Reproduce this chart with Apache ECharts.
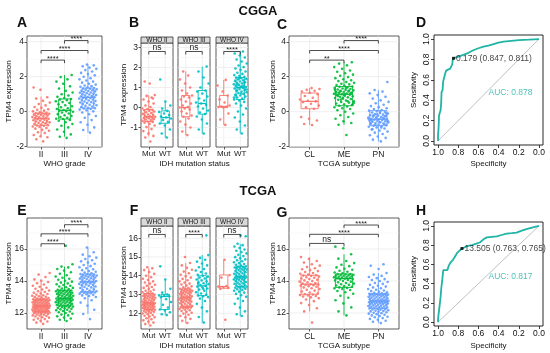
<!DOCTYPE html>
<html><head><meta charset="utf-8">
<script src="https://cdn.jsdelivr.net/npm/echarts@6/dist/echarts.min.js"></script>
<style>html,body{margin:0;padding:0;background:#fff}#c{width:550px;height:353px}</style>
</head><body><div id="c"></div>
<script>
// ---------------- DATA ----------------
const gradeCats = ['II', 'III', 'IV'];
const idhCats = ['Mut', 'WT'];
const subtypeCats = ['CL', 'ME', 'PN'];
const whoFacets = ['WHO II', 'WHO III', 'WHO IV'];

// y tick labels
const ticksCggaGrade = [-2, 0, 2, 4];
const ticksCggaIDH = [-1, 0, 1, 2, 3];
const ticksTcgaGrade = [12, 14, 16];
const ticksTcgaIDH = [12, 13, 14, 15, 16];
const ticksROC = [0, 0.2, 0.4, 0.6, 0.8, 1.0];

// box stats: [lower whisker, Q1, median, Q3, upper whisker]
const boxCggaGrade = [[-1.4, -0.78, -0.38, -0.08, 0.87], [-1.43, -0.42, 0.08, 0.73, 2.1], [-1.2, 0.2, 0.82, 1.35, 2.7]];
const boxCggaWHO2 = [[-1.45, -0.7, -0.46, -0.1, 0.62], [-1.5, -0.79, -0.5, -0.17, 0.3]];
const boxCggaWHO3 = [[-1.38, -0.46, 0.0, 0.6, 1.8], [-1.3, -0.33, 0.2, 0.85, 2.05]];
const boxCggaWHO4 = [[-0.87, 0.02, 0.05, 0.6, 1.38], [-1.3, 0.4, 1.0, 1.5, 2.8]];
const boxCggaSub = [[-0.76, 0.17, 0.59, 1.07, 1.35], [-0.75, 0.34, 1.0, 1.44, 2.83], [-1.7, -0.8, -0.43, 0.06, 1.24]];
const boxTcgaGrade = [[11.38, 12.1, 12.45, 12.86, 14.1], [11.5, 12.45, 12.92, 13.42, 14.9], [11.94, 13.33, 13.95, 14.44, 16.1]];
const boxTcgaWHO2 = [[11.4, 12.2, 12.55, 13.05, 14.4], [11.9, 12.2, 12.9, 13.0, 13.8]];
const boxTcgaWHO3 = [[11.48, 12.35, 12.85, 13.3, 14.68], [11.5, 12.94, 13.46, 14.0, 15.1]];
const boxTcgaWHO4 = [[13.3, 13.33, 13.42, 14.04, 14.85], [11.85, 13.42, 13.95, 14.5, 15.7]];
const boxTcgaSub = [[12.1, 13.17, 13.8, 14.36, 15.5], [11.85, 13.6, 14.15, 14.44, 15.67], [11.37, 12.3, 12.75, 13.2, 14.5]];

// individual sample values
const cggaII = [-1.7,-1.58,-1.46,-1.41,-1.33,-1.22,-1.18,-1.09,-1.04,-0.97,-0.93,-0.88,-0.85,-0.81,-0.79,-0.77,-0.73,-0.71,-0.66,-0.64,-0.61,-0.6,-0.56,-0.54,-0.51,-0.49,-0.46,-0.43,-0.41,-0.4,-0.38,-0.36,-0.32,-0.31,-0.27,-0.26,-0.22,-0.19,-0.17,-0.15,-0.13,-0.12,-0.1,-0.09,-0.07,-0.04,0.02,0.06,0.11,0.14,0.22,0.27,0.36,0.44,0.52,0.63,0.75,0.83,1.25,1.38];
const cggaIII = [-1.5,-1.43,-1.3,-1.15,-1.02,-0.9,-0.81,-0.7,-0.6,-0.52,-0.47,-0.42,-0.4,-0.35,-0.3,-0.24,-0.2,-0.14,-0.1,-0.05,0.0,0.03,0.06,0.08,0.1,0.15,0.2,0.25,0.31,0.37,0.42,0.5,0.55,0.6,0.66,0.7,0.72,0.78,0.85,0.93,1.0,1.1,1.2,1.33,1.45,1.6,1.72,1.85,1.98,2.1];
const cggaIV = [-1.2,-1.05,-0.9,-0.75,-0.6,-0.48,-0.35,-0.25,-0.15,-0.05,0.02,0.08,0.12,0.15,0.18,0.2,0.22,0.26,0.3,0.33,0.37,0.4,0.44,0.47,0.5,0.53,0.55,0.58,0.61,0.64,0.67,0.7,0.72,0.75,0.78,0.8,0.82,0.84,0.87,0.9,0.92,0.95,0.98,1.0,1.03,1.06,1.08,1.1,1.13,1.16,1.18,1.2,1.23,1.26,1.28,1.31,1.33,1.35,1.38,1.42,1.46,1.5,1.55,1.6,1.66,1.72,1.78,1.85,1.92,2.0,2.08,2.15,2.22,2.3,2.38,2.45,2.52,2.6,2.65,2.7];

const cggaWHO2Mut = [-1.7,-1.5,-1.42,-1.3,-1.18,-1.08,-0.98,-0.9,-0.82,-0.76,-0.72,-0.7,-0.67,-0.63,-0.6,-0.57,-0.54,-0.52,-0.5,-0.48,-0.46,-0.44,-0.41,-0.38,-0.35,-0.32,-0.28,-0.24,-0.2,-0.17,-0.14,-0.11,-0.09,-0.05,0.02,0.1,0.2,0.3,0.4,0.5,0.58,0.62,1.2,1.3,0.45];
const cggaWHO2WT = [-1.5,-1.3,-1.1,-0.9,-0.8,-0.72,-0.62,-0.55,-0.5,-0.45,-0.38,-0.3,-0.22,-0.17,-0.05,0.1,0.3,1.4];
const cggaWHO3Mut = [-1.38,-1.2,-1.0,-0.85,-0.7,-0.55,-0.46,-0.4,-0.3,-0.2,-0.1,-0.05,0.0,0.02,0.1,0.2,0.3,0.4,0.5,0.55,0.6,0.7,0.85,1.0,1.2,1.4,1.6,1.8];
const cggaWHO3WT = [-1.3,-1.1,-0.8,-0.6,-0.45,-0.33,-0.25,-0.15,-0.05,0.05,0.12,0.2,0.25,0.35,0.45,0.55,0.7,0.8,0.85,1.0,1.2,1.5,1.8,2.05];
const cggaWHO4Mut = [-0.87,-0.6,-0.3,0.0,0.02,0.03,0.05,0.1,0.25,0.4,0.6,0.8,1.1,1.38];
const cggaWHO4WT = [-1.3,-1.1,-0.9,-0.7,-0.5,-0.35,-0.2,-0.05,0.1,0.2,0.28,0.35,0.4,0.45,0.5,0.55,0.6,0.64,0.68,0.72,0.76,0.8,0.84,0.88,0.92,0.95,0.98,1.0,1.02,1.05,1.08,1.1,1.13,1.16,1.2,1.23,1.26,1.3,1.33,1.36,1.4,1.43,1.46,1.5,1.53,1.57,1.62,1.68,1.74,1.8,1.88,1.95,2.02,2.1,2.2,2.3,2.4,2.5,2.6,2.7,2.8,1.15,0.9,0.7,0.6,1.25,1.45,0.5,1.05,0.85];

const cggaCL = [-0.76,-0.7,-0.5,-0.4,-0.3,0.17,0.25,0.35,0.45,0.55,0.59,0.62,0.7,0.8,0.9,1.0,1.07,1.15,1.2,1.25,1.3,1.35];
const cggaME = [-1.33,-0.75,-0.65,-0.55,-0.4,-0.3,-0.2,-0.1,0.0,0.08,0.15,0.2,0.25,0.3,0.34,0.38,0.42,0.47,0.52,0.56,0.6,0.64,0.68,0.72,0.75,0.78,0.82,0.85,0.88,0.91,0.94,0.97,1.0,1.02,1.04,1.07,1.09,1.12,1.14,1.16,1.19,1.22,1.24,1.27,1.3,1.33,1.36,1.39,1.42,1.44,1.48,1.52,1.56,1.6,1.65,1.7,1.75,1.8,1.86,1.92,1.98,2.05,2.12,2.2,2.28,2.36,2.45,2.55,2.65,2.75,2.83,0.95,1.1,1.2,0.7,0.5,1.35,0.9,1.05,0.8,1.25,0.6,1.15,0.4,1.0];
const cggaPN = [-1.7,-1.6,-1.5,-1.42,-1.35,-1.28,-1.2,-1.14,-1.08,-1.02,-0.96,-0.9,-0.86,-0.82,-0.8,-0.77,-0.74,-0.71,-0.68,-0.65,-0.62,-0.6,-0.58,-0.55,-0.53,-0.5,-0.48,-0.46,-0.44,-0.43,-0.41,-0.39,-0.36,-0.34,-0.31,-0.28,-0.26,-0.23,-0.2,-0.17,-0.14,-0.11,-0.08,-0.05,-0.02,0.02,0.06,0.1,0.15,0.2,0.26,0.32,0.4,0.48,0.56,0.65,0.75,0.85,0.95,1.05,1.15,1.24,1.7,-0.6,-0.5,-0.7,-0.3,-0.4,-0.9,-0.2,-0.1,-0.45,-0.65,-0.35,-0.75,-0.55,0.0,-1.0,-0.25,-0.15];

const tcgaII = [11.32,11.4,11.47,11.51,11.58,11.62,11.66,11.71,11.73,11.78,11.81,11.84,11.85,11.89,11.91,11.94,11.96,11.99,12.0,12.02,12.03,12.05,12.06,12.07,12.08,12.09,12.1,12.11,12.13,12.15,12.16,12.18,12.19,12.21,12.22,12.24,12.26,12.27,12.28,12.3,12.31,12.33,12.34,12.35,12.37,12.38,12.39,12.4,12.41,12.42,12.43,12.44,12.45,12.45,12.46,12.48,12.5,12.51,12.53,12.54,12.56,12.58,12.59,12.61,12.62,12.64,12.66,12.67,12.69,12.71,12.72,12.74,12.76,12.77,12.79,12.8,12.82,12.83,12.84,12.85,12.86,12.88,12.91,12.93,12.96,12.99,13.02,13.05,13.08,13.11,13.15,13.19,13.22,13.27,13.31,13.36,13.41,13.47,13.52,13.58,13.64,13.7,13.78,13.86,13.94,14.02,14.1,14.25,14.4,14.5];
const tcgaIII = [11.5,11.58,11.66,11.72,11.79,11.85,11.9,11.95,12.0,12.05,12.09,12.13,12.17,12.2,12.23,12.26,12.29,12.32,12.35,12.37,12.4,12.42,12.44,12.45,12.47,12.5,12.52,12.55,12.57,12.6,12.62,12.64,12.66,12.68,12.7,12.72,12.74,12.76,12.78,12.8,12.82,12.83,12.85,12.86,12.88,12.89,12.91,12.92,12.94,12.96,12.99,13.01,13.04,13.06,13.08,13.11,13.13,13.15,13.17,13.19,13.21,13.24,13.26,13.28,13.3,13.32,13.34,13.36,13.38,13.4,13.41,13.42,13.45,13.49,13.53,13.57,13.61,13.66,13.7,13.75,13.8,13.85,13.9,13.96,14.02,14.08,14.14,14.2,14.28,14.36,14.45,14.55,14.65,14.75,14.85,14.9,15.05,16.2];
const tcgaIV = [11.62,11.94,12.2,12.45,12.65,12.8,12.92,13.0,13.06,13.1,13.14,13.18,13.21,13.24,13.26,13.28,13.3,13.31,13.32,13.33,13.36,13.4,13.44,13.48,13.52,13.56,13.6,13.63,13.66,13.7,13.73,13.76,13.79,13.82,13.85,13.87,13.9,13.92,13.94,13.95,13.97,14.0,14.03,14.06,14.09,14.12,14.15,14.17,14.2,14.22,14.25,14.27,14.3,14.32,14.34,14.36,14.38,14.4,14.42,14.44,14.48,14.53,14.58,14.63,14.68,14.74,14.8,14.86,14.93,15.0,15.08,15.15,15.23,15.3,15.38,15.46,15.55,15.65,15.8,16.1];

const tcgaWHO2Mut = [11.35,11.42,11.5,11.56,11.62,11.68,11.73,11.78,11.83,11.87,11.91,11.95,11.99,12.02,12.05,12.08,12.1,12.13,12.15,12.17,12.19,12.2,12.22,12.24,12.26,12.28,12.3,12.32,12.34,12.36,12.38,12.4,12.41,12.43,12.44,12.46,12.47,12.49,12.5,12.51,12.52,12.53,12.54,12.55,12.57,12.6,12.62,12.65,12.67,12.7,12.72,12.75,12.77,12.8,12.82,12.84,12.86,12.88,12.9,12.92,12.94,12.96,12.98,13.0,13.02,13.05,13.08,13.12,13.16,13.2,13.25,13.3,13.35,13.4,13.46,13.52,13.58,13.64,13.7,13.77,13.84,13.92,14.0,14.1,14.2,14.3,14.4,14.45];
const tcgaWHO2WT = [11.9,11.95,12.05,12.15,12.2,12.3,12.45,12.6,12.75,12.85,12.9,12.92,12.95,13.0,13.1,13.3,13.8,14.5];
const tcgaWHO3Mut = [11.48,11.6,11.7,11.78,11.85,11.92,11.98,12.03,12.08,12.12,12.16,12.2,12.23,12.26,12.28,12.3,12.32,12.33,12.34,12.35,12.38,12.41,12.44,12.47,12.5,12.53,12.56,12.59,12.62,12.64,12.66,12.69,12.71,12.73,12.75,12.77,12.79,12.81,12.83,12.85,12.87,12.9,12.92,12.95,12.97,13.0,13.02,13.05,13.07,13.1,13.12,13.14,13.16,13.18,13.2,13.22,13.24,13.26,13.28,13.3,13.34,13.38,13.43,13.48,13.53,13.58,13.64,13.7,13.76,13.83,13.9,13.97,14.05,14.13,14.22,14.32,14.42,14.55,14.68,15.0];
const tcgaWHO3WT = [11.5,11.8,12.1,12.3,12.5,12.65,12.78,12.86,12.9,12.94,12.98,13.05,13.12,13.2,13.26,13.32,13.38,13.42,13.46,13.5,13.55,13.6,13.65,13.7,13.75,13.8,13.85,13.9,13.95,14.0,14.05,14.12,14.2,14.28,14.36,14.45,14.55,14.65,14.75,14.85,14.95,15.1,13.3,13.58,16.15];
const tcgaWHO4Mut = [11.65,13.3,13.35,13.4,13.42,13.45,13.9,14.04,14.85];
const tcgaWHO4WT = [11.85,11.95,12.1,12.3,12.5,12.65,12.78,12.88,12.96,13.03,13.1,13.15,13.2,13.24,13.28,13.31,13.34,13.36,13.38,13.4,13.42,13.45,13.48,13.51,13.54,13.57,13.6,13.63,13.66,13.69,13.72,13.75,13.78,13.8,13.82,13.84,13.86,13.88,13.9,13.92,13.94,13.95,13.98,14.01,14.04,14.07,14.1,14.13,14.16,14.19,14.22,14.25,14.28,14.3,14.33,14.35,14.38,14.4,14.42,14.44,14.46,14.48,14.5,14.54,14.58,14.62,14.67,14.72,14.77,14.82,14.87,14.93,14.99,15.05,15.12,15.19,15.26,15.33,15.4,15.48,15.56,15.63,15.7,16.1,16.15];

const tcgaCL = [11.4,12.1,12.3,12.5,12.62,12.74,12.84,12.92,12.98,13.03,13.07,13.1,13.13,13.15,13.17,13.22,13.28,13.34,13.4,13.45,13.5,13.55,13.6,13.64,13.68,13.71,13.74,13.76,13.78,13.8,13.84,13.88,13.92,13.96,14.0,14.04,14.08,14.12,14.16,14.2,14.24,14.28,14.31,14.34,14.36,14.4,14.45,14.5,14.56,14.62,14.68,14.74,14.8,14.88,14.96,15.05,15.15,15.25,15.38,15.5];
const tcgaME = [11.85,12.1,12.35,12.6,12.8,12.95,13.08,13.2,13.3,13.38,13.44,13.5,13.54,13.57,13.6,13.64,13.68,13.72,13.76,13.8,13.84,13.88,13.92,13.96,14.0,14.04,14.07,14.1,14.12,14.15,14.17,14.19,14.21,14.23,14.25,14.27,14.29,14.31,14.33,14.35,14.37,14.39,14.41,14.43,14.44,14.48,14.53,14.58,14.64,14.7,14.77,14.85,14.93,15.02,15.12,15.25,15.4,15.67,16.05,16.15];
const tcgaPN = [11.37,11.45,11.52,11.58,11.63,11.68,11.73,11.77,11.81,11.85,11.89,11.93,11.96,11.99,12.02,12.05,12.08,12.1,12.13,12.15,12.17,12.2,12.22,12.24,12.26,12.28,12.3,12.32,12.34,12.36,12.38,12.4,12.42,12.44,12.46,12.48,12.5,12.52,12.54,12.56,12.58,12.6,12.61,12.62,12.64,12.65,12.67,12.68,12.7,12.71,12.72,12.73,12.74,12.75,12.77,12.79,12.8,12.82,12.84,12.86,12.88,12.9,12.92,12.94,12.96,12.98,13.0,13.02,13.04,13.06,13.08,13.1,13.12,13.13,13.14,13.15,13.16,13.17,13.18,13.19,13.2,13.23,13.26,13.29,13.33,13.37,13.41,13.45,13.5,13.55,13.6,13.65,13.7,13.76,13.82,13.88,13.94,14.0,14.06,14.12,14.18,14.25,14.32,14.4,14.5,14.75,14.95,15.05];

// significance brackets: [fromCat, toCat, height]
const brkCggaGrade = [[0, 1, 2.95], [0, 2, 3.5], [1, 2, 4.07]];
const brkCggaGradeLab = ['****', '****', '****'];
const brkCggaIDH = [[0, 1, 2.8]];
const brkCggaIDHLab = ['ns', 'ns', '****'];
const brkCggaSub = [[0, 1, 2.95], [0, 2, 3.5], [1, 2, 4.07]];
const brkCggaSubLab = ['**', '****', '****'];
const brkTcgaGrade = [[0, 1, 16.33], [0, 2, 16.95], [1, 2, 17.52]];
const brkTcgaGradeLab = ['****', '****', '****'];
const brkTcgaIDH = [[0, 1, 16.2]];
const brkTcgaIDHLab = ['ns', '****', 'ns'];
const brkTcgaSub = [[0, 1, 16.35], [0, 2, 16.92], [1, 2, 17.5]];
const brkTcgaSubLab = ['ns', '****', '****'];

// ROC curves (specificity, sensitivity)
const rocSpecCgga = [1,1,0.995,0.99,0.985,0.975,0.97,0.965,0.955,0.95,0.94,0.93,0.92,0.9,0.88,0.87,0.86,0.855,0.85,0.847,0.82,0.79,0.75,0.71,0.68,0.65,0.6,0.55,0.5,0.45,0.4,0.35,0.3,0.25,0.2,0.15,0.1,0.05,0];
const rocSensCgga = [0,0.06,0.12,0.25,0.27,0.3,0.35,0.48,0.5,0.58,0.62,0.66,0.69,0.7,0.71,0.71,0.75,0.79,0.81,0.811,0.82,0.83,0.845,0.86,0.875,0.89,0.91,0.925,0.935,0.95,0.965,0.975,0.98,0.985,0.99,0.993,0.995,0.998,1];
const rocBestCgga = [0.179, 0.847, 0.811];
const rocAucCgga = 0.878;
const rocSpecTcga = [1,1,0.995,0.984,0.974,0.967,0.958,0.948,0.93,0.908,0.892,0.876,0.85,0.827,0.81,0.79,0.768,0.763,0.74,0.712,0.69,0.663,0.62,0.582,0.55,0.516,0.47,0.418,0.37,0.32,0.27,0.222,0.17,0.124,0.06,0];
const rocSensTcga = [0,0.03,0.08,0.175,0.27,0.36,0.44,0.54,0.54,0.54,0.59,0.62,0.65,0.69,0.72,0.74,0.76,0.765,0.775,0.79,0.795,0.8,0.815,0.83,0.86,0.88,0.885,0.89,0.905,0.92,0.925,0.93,0.95,0.967,0.985,1];
const rocBestTcga = [13.505, 0.763, 0.765];
const rocAucTcga = 0.817;

// ---------------- BUILD ----------------
const FONT = '"Liberation Sans", Arial, Helvetica, sans-serif';
const COL3 = ['#F8766D', '#00BA38', '#619CFF'];
const COL2 = ['#F8766D', '#00BFC4'];
const ROC_COL = '#1fb5a6';
const grid = [], xAxis = [], yAxis = [], series = [], graphic = [];

function jit(k) { return ((((k + 1) * 0.6180339887) % 1) - 0.5) * 2; }
function minorOf(t) { const r = []; for (let i = 0; i < t.length - 1; i++) r.push((t[i] + t[i + 1]) / 2); const s = t[1] - t[0]; r.unshift(t[0] - s / 2); r.push(t[t.length - 1] + s / 2); return r; }

function addBoxPanel(c) {
  const gi = grid.length;
  const n = c.cats.length;
  grid.push({ left: c.left, top: c.top, width: c.width, height: c.height, show: true, borderColor: '#333', borderWidth: 0.8, backgroundColor: '#fff', containLabel: false, outerBoundsMode: 'none' });
  const xi = xAxis.length;
  const idx = c.cats.map((_, i) => i);
  xAxis.push({
    type: 'value', gridIndex: gi, min: -c.pad, max: n - 1 + c.pad,
    axisLine: { show: false, onZero: false }, splitLine: { show: false },
    axisTick: { show: true, customValues: idx, length: 2.5, lineStyle: { color: '#333', width: 0.8 } },
    axisLabel: { customValues: idx, formatter: v => c.cats[Math.round(v)], fontSize: c.xFont, color: '#1a1a1a', margin: 3, fontFamily: FONT }
  });
  const yi = yAxis.length;
  yAxis.push({
    type: 'value', gridIndex: gi, min: c.yMin, max: c.yMax,
    axisLine: { show: false, onZero: false }, splitLine: { show: false },
    axisTick: { show: c.showY, customValues: c.ticks, length: 2.5, lineStyle: { color: '#333', width: 0.8 } },
    axisLabel: { show: c.showY, customValues: c.ticks, fontSize: 8.5, color: '#1a1a1a', margin: 3, fontFamily: FONT }
  });
  const mnr = minorOf(c.ticks).filter(v => v > c.yMin && v < c.yMax);
  const lines = [];
  mnr.forEach(v => lines.push([0, v, 0]));
  c.ticks.forEach(v => lines.push([0, v, 1]));
  idx.forEach(i => lines.push([i, c.yMin, 2]));
  series.push({
    type: 'custom', xAxisIndex: xi, yAxisIndex: yi, silent: true, z: 1, data: lines,
    renderItem: (p, api) => {
      const cs = p.coordSys; const kind = api.value(2);
      if (kind === 2) { const x = api.coord([api.value(0), c.yMin])[0]; return { type: 'line', shape: { x1: x, y1: cs.y, x2: x, y2: cs.y + cs.height }, style: { stroke: '#e8e8e8', lineWidth: 0.7 } }; }
      const y = api.coord([0, api.value(1)])[1];
      return { type: 'line', shape: { x1: cs.x, y1: y, x2: cs.x + cs.width, y2: y }, style: { stroke: kind === 1 ? '#e8e8e8' : '#f3f3f3', lineWidth: kind === 1 ? 0.7 : 0.5 } };
    }
  });
  series.push({
    type: 'custom', xAxisIndex: xi, yAxisIndex: yi, silent: true, z: 3,
    data: c.boxes.map((b, i) => [i, b[0], b[1], b[2], b[3], b[4]]),
    renderItem: (p, api) => {
      const i = api.value(0);
      const lo = api.value(1), q1 = api.value(2), md = api.value(3), q3 = api.value(4), hi = api.value(5);
      const y = v => api.coord([i, v])[1];
      const cx = api.coord([i, md])[0];
      const bw = api.size([1, 0])[0] * 0.5;
      const col = c.colors[i];
      return { type: 'group', children: [
        { type: 'line', shape: { x1: cx, y1: y(hi), x2: cx, y2: y(q3) }, style: { stroke: col, lineWidth: 0.9 } },
        { type: 'line', shape: { x1: cx, y1: y(q1), x2: cx, y2: y(lo) }, style: { stroke: col, lineWidth: 0.9 } },
        { type: 'rect', shape: { x: cx - bw / 2, y: y(q3), width: bw, height: y(q1) - y(q3) }, style: { stroke: col, fill: '#fff', lineWidth: 0.9 } },
        { type: 'line', shape: { x1: cx - bw / 2, y1: y(md), x2: cx + bw / 2, y2: y(md) }, style: { stroke: col, lineWidth: 1.2 } }
      ] };
    }
  });
  c.points.forEach((arr, i) => {
    series.push({
      type: 'scatter', xAxisIndex: xi, yAxisIndex: yi, silent: true, z: 4, symbol: 'circle', symbolSize: 2.6,
      itemStyle: { color: c.colors[i], opacity: 0.9 },
      data: arr.map((v, k) => [i + jit(k) * c.jit, v])
    });
  });
  series.push({
    type: 'custom', xAxisIndex: xi, yAxisIndex: yi, silent: true, z: 5,
    data: c.brackets.map(b => [b[0], b[2], b[1]]),
    renderItem: (p, api) => {
      const a = api.value(0), yv = api.value(1), b = api.value(2);
      const p1 = api.coord([a, yv]), p2 = api.coord([b, yv]);
      const lab = c.labels[p.dataIndex];
      const ns = lab === 'ns';
      return { type: 'group', children: [
        { type: 'polyline', shape: { points: [[p1[0], p1[1] + 3], [p1[0], p1[1]], [p2[0], p2[1]], [p2[0], p2[1] + 3]] }, style: { stroke: '#222', fill: null, lineWidth: 0.8 } },
        { type: 'text', style: { x: (p1[0] + p2[0]) / 2, y: p1[1] + (ns ? 0.5 : 2.5), text: lab, align: 'center', verticalAlign: 'bottom', fontSize: ns ? 8.5 : 7.5, fontFamily: FONT, fill: '#222' } }
      ] };
    }
  });
}

function addText(x, y, text, size, opts) {
  graphic.push(Object.assign({ type: 'text', x: x, y: y, silent: true, style: { text: text, fontSize: size, fontFamily: FONT, fill: '#111', align: 'center', verticalAlign: 'middle', fontWeight: (opts && opts.bold) ? 'bold' : 'normal' } }, (opts && opts.rot) ? { rotation: Math.PI / 2 } : {}));
}

function addROC(c) {
  const gi = grid.length;
  grid.push({ left: c.left, top: c.top, width: c.width, height: c.height, show: true, borderColor: '#111', borderWidth: 0.9, backgroundColor: '#fff', containLabel: false, outerBoundsMode: 'none' });
  const xi = xAxis.length;
  xAxis.push({ type: 'value', gridIndex: gi, min: -0.04, max: 1.04, inverse: true,
    axisLine: { show: false, onZero: false }, splitLine: { show: false },
    axisTick: { show: true, customValues: ticksROC, length: 3, lineStyle: { color: '#111', width: 0.8 } },
    axisLabel: { customValues: ticksROC, formatter: v => v.toFixed(1), fontSize: 8.5, color: '#111', margin: 3, fontFamily: FONT } });
  const yi = yAxis.length;
  yAxis.push({ type: 'value', gridIndex: gi, min: -0.04, max: 1.04,
    axisLine: { show: false, onZero: false }, splitLine: { show: false },
    axisTick: { show: true, customValues: ticksROC, length: 3, lineStyle: { color: '#111', width: 0.8 } },
    axisLabel: { customValues: ticksROC, formatter: v => v.toFixed(1), rotate: 90, fontSize: 8.5, color: '#111', margin: 3, fontFamily: FONT } });
  series.push({ type: 'line', xAxisIndex: xi, yAxisIndex: yi, silent: true, z: 2, showSymbol: false, data: [[1, 0], [0, 1]], lineStyle: { color: '#b0b0b0', width: 0.8 } });
  series.push({ type: 'line', xAxisIndex: xi, yAxisIndex: yi, silent: true, z: 3, showSymbol: false, data: c.spec.map((s, k) => [s, c.sens[k]]), lineStyle: { color: ROC_COL, width: 1.8 } });
  series.push({ type: 'scatter', xAxisIndex: xi, yAxisIndex: yi, silent: true, z: 4, symbol: 'rect', symbolSize: 3, itemStyle: { color: '#000' },
    data: [[c.best[1], c.best[2]]],
    label: { show: true, position: 'right', distance: 1, formatter: c.best[0].toFixed(3) + ' (' + c.best[1].toFixed(3) + ', ' + c.best[2].toFixed(3) + ')', fontSize: 8.5, color: '#111', fontFamily: FONT } });
  series.push({ type: 'scatter', xAxisIndex: xi, yAxisIndex: yi, silent: true, z: 4, symbolSize: 0, data: [[0.5, 0.47]],
    label: { show: true, position: 'right', distance: 0, formatter: 'AUC: ' + c.auc.toFixed(3), fontSize: 8.5, color: ROC_COL, fontFamily: FONT } });
}

// ---- layout ----
const rows = [{ top: 36, h: 111, stripTop: 37, facetTop: 43, titleY: 164, letterY: 23, head: 'CGGA', headY: 11 },
              { top: 218, h: 111, stripTop: 218, facetTop: 226, titleY: 346, letterY: 211, head: 'TCGA', headY: 191 }];
const colA = { left: 27, width: 75 }, colC = { left: 289, width: 110 };
const facetLefts = [141, 178, 216], facetW = 32;

const dataSets = [
  { grade: [cggaII, cggaIII, cggaIV], gradeBox: boxCggaGrade, gradeTicks: ticksCggaGrade, gMin: -2.02, gMax: 4.33, brkG: brkCggaGrade, brkGL: brkCggaGradeLab,
    idhPts: [[cggaWHO2Mut, cggaWHO2WT], [cggaWHO3Mut, cggaWHO3WT], [cggaWHO4Mut, cggaWHO4WT]], idhBox: [boxCggaWHO2, boxCggaWHO3, boxCggaWHO4], idhTicks: ticksCggaIDH, iMin: -1.975, iMax: 3.225, brkI: brkCggaIDH, brkIL: brkCggaIDHLab,
    sub: [cggaCL, cggaME, cggaPN], subBox: boxCggaSub, brkS: brkCggaSub, brkSL: brkCggaSubLab,
    roc: { spec: rocSpecCgga, sens: rocSensCgga, best: rocBestCgga, auc: rocAucCgga }, rocBox: { top: 35, h: 110 }, letters: ['A', 'B', 'C', 'D'] },
  { grade: [tcgaII, tcgaIII, tcgaIV], gradeBox: boxTcgaGrade, gradeTicks: ticksTcgaGrade, gMin: 11.0, gMax: 17.94, brkG: brkTcgaGrade, brkGL: brkTcgaGradeLab,
    idhPts: [[tcgaWHO2Mut, tcgaWHO2WT], [tcgaWHO3Mut, tcgaWHO3WT], [tcgaWHO4Mut, tcgaWHO4WT]], idhBox: [boxTcgaWHO2, boxTcgaWHO3, boxTcgaWHO4], idhTicks: ticksTcgaIDH, iMin: 11.16, iMax: 16.65, brkI: brkTcgaIDH, brkIL: brkTcgaIDHLab,
    sub: [tcgaCL, tcgaME, tcgaPN], subBox: boxTcgaSub, brkS: brkTcgaSub, brkSL: brkTcgaSubLab,
    roc: { spec: rocSpecTcga, sens: rocSensTcga, best: rocBestTcga, auc: rocAucTcga }, rocBox: { top: 222, h: 104 }, letters: ['E', 'F', 'G', 'H'] }
];

dataSets.forEach((d, r) => {
  const R = rows[r];
  addBoxPanel({ left: colA.left, width: colA.width, top: R.top, height: R.h, cats: gradeCats, colors: COL3, boxes: d.gradeBox, points: d.grade, ticks: d.gradeTicks, yMin: d.gMin, yMax: d.gMax, showY: true, jit: 0.38, pad: 0.6, xFont: 8.5, brackets: d.brkG, labels: d.brkGL });
  const fBottom = R.top + R.h;
  d.idhPts.forEach((pts, f) => {
    addBoxPanel({ left: facetLefts[f], width: facetW, top: R.facetTop, height: fBottom - R.facetTop, cats: idhCats, colors: COL2, boxes: d.idhBox[f], points: pts, ticks: d.idhTicks, yMin: d.iMin, yMax: d.iMax, showY: f === 0, jit: 0.4, pad: 0.47, xFont: 8, brackets: d.brkI, labels: [d.brkIL[f]] });
    graphic.push({ type: 'rect', silent: true, shape: { x: facetLefts[f], y: R.stripTop, width: facetW, height: R.facetTop - R.stripTop }, style: { fill: '#d9d9d9', stroke: '#333', lineWidth: 0.8 } });
    addText(facetLefts[f] + facetW / 2, (R.stripTop + R.facetTop) / 2 + 0.5, whoFacets[f], 6.5, {});
  });
  addBoxPanel({ left: colC.left, width: colC.width, top: R.top, height: R.h, cats: subtypeCats, colors: COL3, boxes: d.subBox, points: d.sub, ticks: d.gradeTicks, yMin: d.gMin, yMax: d.gMax, showY: true, jit: 0.3, pad: 0.6, xFont: 8.5, brackets: d.brkS, labels: d.brkSL });
  addROC(Object.assign({ left: 434, width: 109, top: d.rocBox.top, height: d.rocBox.h }, d.roc));

  // titles
  addText(colA.left + colA.width / 2, R.titleY, 'WHO grade', 8);
  addText(facetLefts[0] + (facetLefts[2] + facetW - facetLefts[0]) / 2, R.titleY, 'IDH mutation status', 8);
  addText(colC.left + colC.width / 2, R.titleY, 'TCGA subtype', 8);
  addText(434 + 109 / 2, R.titleY, 'Specificity', 8);
  addText(9, R.top + R.h / 2, 'TPM4 expression', 8, { rot: true });
  addText(124, (R.facetTop + fBottom) / 2, 'TPM4 expression', 8, { rot: true });
  addText(273, R.top + R.h / 2, 'TPM4 expression', 8, { rot: true });
  addText(414, d.rocBox.top + d.rocBox.h / 2, 'Sensitivity', 8, { rot: true });
  // panel letters
  [[22, R.letterY], [134, R.letterY], [282, R.letterY + 2], [421, R.letterY]].forEach((p, k) => addText(p[0], p[1], d.letters[k], 14, { bold: true }));
  addText(258, R.headY, R.head, 13, { bold: true });
});

const chart = echarts.init(document.getElementById('c'), null, { renderer: 'canvas' });
chart.setOption({ animation: false, backgroundColor: '#fff', grid, xAxis, yAxis, series, graphic });
</script>
</body></html>
